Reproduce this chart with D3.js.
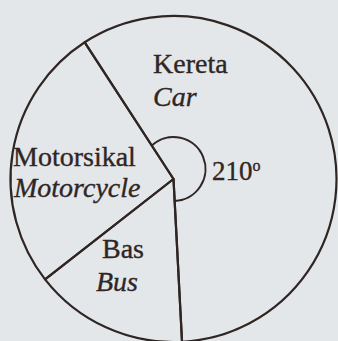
<!DOCTYPE html>
<html>
<head>
<meta charset="utf-8">
<script src="https://cdn.jsdelivr.net/npm/d3@7"></script>
<style>
  html, body { margin: 0; padding: 0; background: #e4e7ea; overflow: hidden; }
  svg { display: block; }
  .lbl { font-family: "Liberation Serif", "Times New Roman", "DejaVu Serif", serif; }
</style>
</head>
<body>
<svg id="chart" width="338" height="341"></svg>
<script>
// Modes of transport (Malay / English) and their sector angles in degrees
const categories   = ["Kereta", "Bas", "Motorsikal"];
const categoriesEn = ["Car", "Bus", "Motorcycle"];
const angles       = [210, 55, 95];
const markedAngle  = 210;   // the angle written next to the Car sector

const W = 338, H = 341;
const cx = 173.5, cy = 179, R = 163;
const ink = "#2f2624";
const rad = d => d * Math.PI / 180;

const svg = d3.select("#chart");

svg.append("rect").attr("width", W).attr("height", H).attr("fill", "#e4e7ea");

// pie sectors, clockwise from Car
const startDeg = -33;
const pie = d3.pie().sort(null).value(d => d)
  .startAngle(rad(startDeg)).endAngle(rad(startDeg + 360));
const arcs = pie(angles);

const arcGen = d3.arc().innerRadius(0).outerRadius(R);

const g = svg.append("g").attr("transform", `translate(${cx},${cy})`);

g.selectAll("path.sector")
  .data(arcs)
  .join("path")
  .attr("class", "sector")
  .attr("d", arcGen)
  .attr("fill", "none")
  .attr("stroke", ink)
  .attr("stroke-width", 2.2)
  .attr("stroke-linejoin", "round");

// angle marker for the Car sector
const car = arcs[0];
const mk = { x: 0, y: -10, r: 32 };
// where a radius at angle a meets the marker circle
function meet(a) {
  const dx = Math.sin(a), dy = -Math.cos(a);
  const ox = -mk.x, oy = -mk.y;
  const b = ox * dx + oy * dy;
  const c = ox * ox + oy * oy - mk.r * mk.r;
  const t = -b + Math.sqrt(b * b - c);
  const px = t * dx - mk.x, py = t * dy - mk.y;
  return Math.atan2(py, px);
}
const p = d3.path();
const a0 = meet(car.startAngle), a1 = meet(car.endAngle);
p.arc(mk.x, mk.y, mk.r, a0, a1 < a0 ? a1 + 2 * Math.PI : a1, false);
g.append("path")
  .attr("d", p.toString())
  .attr("fill", "none")
  .attr("stroke", ink)
  .attr("stroke-width", 2);

// labels
const txt = svg.append("g")
  .attr("class", "lbl")
  .attr("font-size", 28)
  .attr("fill", ink)
  .attr("stroke", ink)
  .attr("stroke-width", 0.35);

const labelPos = [
  { x: 153, y1: 73,  y2: 106 },          // Car
  { x: 102, y1: 258, y2: 291, x2: 96 },  // Bus
  { x: 13,  y1: 166, y2: 197, x2: 14 }   // Motorcycle
];
categories.forEach((c, i) => {
  const lp = labelPos[i];
  txt.append("text").attr("x", lp.x).attr("y", lp.y1).text(c);
  txt.append("text").attr("x", lp.x2 ?? lp.x).attr("y", lp.y2)
    .attr("font-style", "italic").text(categoriesEn[i]);
});

const deg = txt.append("text").attr("x", 212).attr("y", 180).attr("font-size", 27);
deg.append("tspan").text(markedAngle);
deg.append("tspan").attr("font-size", 16).attr("dy", -9).text("o");
</script>
</body>
</html>
